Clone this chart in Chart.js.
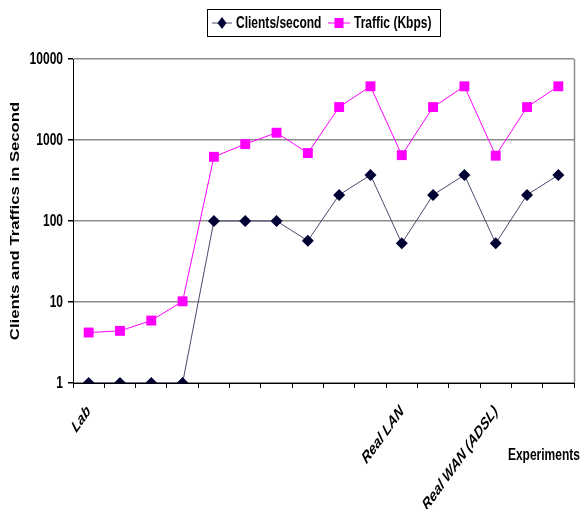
<!DOCTYPE html>
<html>
<head>
<meta charset="utf-8">
<title>Clients and Traffic per Experiment</title>
<script src="https://cdn.jsdelivr.net/npm/chart.js@4.4.1/dist/chart.umd.min.js"></script>
<style>
  html, body { margin: 0; padding: 0; background: #fff; }
  #wrap { width: 581px; height: 509px; }
</style>
</head>
<body>
<div id="wrap"><canvas id="chart" width="581" height="509"></canvas></div>
<script>
// Experiment run labels (only group starts are named)
const categories = ['Lab', '', '', '', '', '', '', '', '', '', 'Real LAN', '', '', 'Real WAN (ADSL)', '', ''];
// Measured clients per second for each run
const clientsPerSecond = [1, 1, 1, 1, 100, 100, 100, 57, 210, 370, 53, 210, 370, 53, 210, 370];
// Measured traffic in Kbps for each run
const trafficKbps = [4.2, 4.4, 5.9, 10.2, 620, 890, 1230, 690, 2550, 4600, 650, 2550, 4600, 640, 2550, 4600];
// Decade ticks shown on the log axis
const yTicks = [1, 10, 100, 1000, 10000];
const seriesNames = ['Clients/second', 'Traffic (Kbps)'];
const yTitle = 'Clients and Traffics in Second';
const xTitle = 'Experiments';

const FONT = '"Liberation Sans", Arial, sans-serif';
const SQUEEZE = 0.72;          // condensed text width
const TXT = 16.7;              // text size before condensing
const NAVY = '#000033';
const NAVY_LINE = '#4a4a6e';
const MAGENTA = '#ff00ff';
const CLEAR = 'rgba(0,0,0,0)';

// draw a condensed text run anchored at (x, y)
function condensedText(ctx, text, x, y, align, baseline, font, angle) {
  ctx.save();
  ctx.translate(x, y);
  ctx.scale(SQUEEZE, 1);
  if (angle) ctx.rotate(angle);
  ctx.font = font;
  ctx.textAlign = align;
  ctx.textBaseline = baseline;
  ctx.fillStyle = '#000';
  ctx.fillText(text, 0, 0);
  ctx.restore();
}

// Frame, tick labels, legend box and axis titles drawn over the chart
const decorations = {
  id: 'decorations',
  afterDraw(chart) {
    const { ctx, chartArea } = chart;
    const xs = chart.scales.x, ys = chart.scales.y;
    const boldFont = 'bold ' + TXT + 'px ' + FONT;
    ctx.save();

    // right-hand frame line
    ctx.strokeStyle = '#8c8c8c';
    ctx.lineWidth = 1.5;
    ctx.beginPath();
    ctx.moveTo(chartArea.right + 0.5, chartArea.top);
    ctx.lineTo(chartArea.right + 0.5, chartArea.bottom);
    ctx.stroke();

    // value axis labels
    yTicks.forEach(v => {
      condensedText(ctx, String(v), chartArea.left - 10, ys.getPixelForValue(v) + 0.5, 'right', 'middle', boldFont);
    });

    // category labels, slanted
    categories.forEach((c, i) => {
      if (!c) return;
      condensedText(ctx, c, xs.getPixelForValue(i) - 4, chartArea.bottom + 20, 'right', 'top',
        'italic bold ' + TXT + 'px ' + FONT, -Math.PI / 4);
    });

    // legend box
    const bx = 207, by = 9, bw = 233, bh = 27;
    ctx.fillStyle = '#fff';
    ctx.fillRect(bx, by, bw, bh);
    ctx.strokeStyle = '#000';
    ctx.lineWidth = 1;
    ctx.strokeRect(bx + 0.5, by + 0.5, bw, bh);

    const cy = by + bh / 2 + 0.5;

    // series 1 sample
    ctx.strokeStyle = NAVY_LINE;
    ctx.beginPath(); ctx.moveTo(212, cy); ctx.lineTo(232, cy); ctx.stroke();
    ctx.fillStyle = NAVY;
    ctx.beginPath();
    ctx.moveTo(222, cy - 6); ctx.lineTo(226.5, cy); ctx.lineTo(222, cy + 6); ctx.lineTo(217.5, cy);
    ctx.closePath(); ctx.fill();
    condensedText(ctx, seriesNames[0], 236, cy, 'left', 'middle', boldFont);

    // series 2 sample
    ctx.strokeStyle = MAGENTA;
    ctx.beginPath(); ctx.moveTo(328, cy); ctx.lineTo(350, cy); ctx.stroke();
    ctx.fillStyle = MAGENTA;
    ctx.fillRect(334.5, cy - 5, 9, 10);
    condensedText(ctx, seriesNames[1], 354, cy, 'left', 'middle', boldFont);

    // value axis title, condensed across its height
    ctx.save();
    ctx.translate(15.5, (chartArea.top + chartArea.bottom) / 2);
    ctx.rotate(-Math.PI / 2);
    ctx.scale(1, SQUEEZE);
    ctx.font = boldFont;
    ctx.textAlign = 'center';
    ctx.textBaseline = 'middle';
    ctx.fillStyle = '#000';
    ctx.fillText(yTitle, 0, 0);
    ctx.restore();

    // category axis title
    condensedText(ctx, xTitle, 580, 455, 'right', 'middle', boldFont);

    ctx.restore();
  }
};

new Chart(document.getElementById('chart'), {
  type: 'line',
  data: {
    labels: categories,
    datasets: [
      {
        label: seriesNames[0],
        data: clientsPerSecond,
        borderColor: NAVY_LINE,
        borderWidth: 1,
        backgroundColor: NAVY,
        pointBackgroundColor: NAVY,
        pointBorderColor: NAVY,
        pointStyle: 'rectRot',
        pointRadius: 6,
        pointBorderWidth: 0,
        tension: 0
      },
      {
        label: seriesNames[1],
        data: trafficKbps,
        borderColor: MAGENTA,
        borderWidth: 1,
        backgroundColor: MAGENTA,
        pointBackgroundColor: MAGENTA,
        pointBorderColor: MAGENTA,
        pointStyle: 'rect',
        pointRadius: 7,
        pointBorderWidth: 0,
        tension: 0
      }
    ]
  },
  options: {
    responsive: false,
    animation: false,
    devicePixelRatio: 1,
    layout: { padding: { top: 59, right: 0, left: 0, bottom: 0 } },
    plugins: {
      legend: { display: false },
      tooltip: { enabled: false },
      title: { display: false }
    },
    scales: {
      x: {
        type: 'category',
        offset: true,
        grid: {
          display: true,
          offset: true,
          drawOnChartArea: false,
          drawTicks: true,
          tickLength: 5,
          tickColor: '#000',
          color: '#000'
        },
        border: { display: true, color: '#000', width: 1 },
        ticks: {
          autoSkip: false,
          maxRotation: 0,
          color: CLEAR,
          font: { size: 10 }
        },
        afterFit(scale) { scale.height = 126; }
      },
      y: {
        type: 'logarithmic',
        min: 1,
        max: 10000,
        afterBuildTicks(scale) { scale.ticks = yTicks.map(v => ({ value: v, major: true })); },
        grid: {
          color: '#8c8c8c',
          lineWidth: 1.5,
          tickLength: 5,
          tickColor: '#000'
        },
        border: { display: true, color: '#000', width: 1 },
        ticks: {
          padding: 5,
          color: CLEAR,
          font: { size: 10 },
          callback: (v) => String(v)
        },
        afterFit(scale) { scale.width = 73; }
      }
    }
  },
  plugins: [decorations]
});
</script>
</body>
</html>
